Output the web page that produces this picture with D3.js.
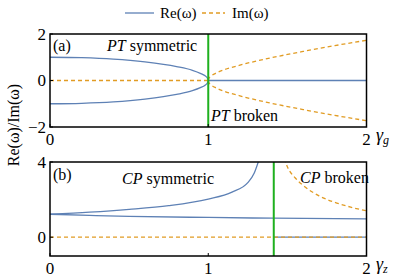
<!DOCTYPE html>
<html>
<head>
<meta charset="utf-8">
<script src="https://cdn.jsdelivr.net/npm/d3@7"></script>
<style>
  body { margin: 0; background: #fff; }
</style>
</head>
<body>
<div id="chart"></div>
<script>
// values
const xTicks = [0, 1, 2];
const yTicksA = [-2, 0, 2];
const yTicksB = [0, 4];

// panel (a): PT
const gammaA1 = [0, 0.2, 0.4, 0.6, 0.8, 0.9, 0.95, 0.98, 0.995, 1];
const reAUpper = [1, 0.98, 0.92, 0.8, 0.6, 0.44, 0.31, 0.2, 0.1, 0];
const reALower = [-1, -0.98, -0.92, -0.8, -0.6, -0.44, -0.31, -0.2, -0.1, 0];
const gammaA2 = [1, 1.005, 1.02, 1.05, 1.1, 1.2, 1.4, 1.6, 1.8, 2];
const imAUpper = [0, 0.1, 0.2, 0.32, 0.46, 0.66, 0.98, 1.25, 1.5, 1.73];
const imALower = [0, -0.1, -0.2, -0.32, -0.46, -0.66, -0.98, -1.25, -1.5, -1.73];
const criticalA = 1;

// panel (b): CP
const gammaB1 = [0, 0.25, 0.5, 0.75, 1.0, 1.15, 1.25, 1.29, 1.32];
const reBUpper = [1.22, 1.33, 1.48, 1.68, 2.03, 2.4, 2.9, 3.4, 4.1];
const gammaB2 = [0, 0.25, 0.5, 1.0, 1.41, 2];
const reBLower = [1.22, 1.16, 1.11, 1.05, 1.01, 0.97];
const gammaB3 = [1.48, 1.5, 1.55, 1.6, 1.7, 1.8, 1.9, 2];
const imBUpper = [4.2, 3.75, 3.15, 2.75, 2.2, 1.85, 1.6, 1.4];
const criticalB = 1.414;

const blue = "#5e81b5", orange = "#e19c24", green = "#1fb01f";
const serif = "Liberation Serif";

const svg = d3.select("#chart").append("svg")
    .attr("width", 399)
    .attr("height", 279);

const x = d3.scaleLinear().domain([0, 2]).range([50, 366.5]);

function panel(id, yDomain, yRange, yTicks) {
    const y = d3.scaleLinear().domain(yDomain).range(yRange);
    const g = svg.append("g");
    g.append("clipPath").attr("id", "clip-" + id)
        .append("rect")
        .attr("x", x.range()[0]).attr("y", yRange[1])
        .attr("width", x.range()[1] - x.range()[0])
        .attr("height", yRange[0] - yRange[1]);
    const plot = g.append("g").attr("clip-path", "url(#clip-" + id + ")");

    function curve(xs, ys, color, dashed) {
        const line = d3.line()
            .x(function(d, i) { return x(xs[i]); })
            .y(function(d) { return y(d); })
            .curve(d3.curveMonotoneX);
        plot.append("path")
            .attr("d", line(ys))
            .attr("fill", "none")
            .attr("stroke", color)
            .attr("stroke-width", 1.3)
            .attr("stroke-dasharray", dashed ? "4,3" : null);
    }

    function vline(v) {
        plot.append("line")
            .attr("x1", x(v)).attr("x2", x(v))
            .attr("y1", yRange[0]).attr("y2", yRange[1])
            .attr("stroke", green)
            .attr("stroke-width", 2);
    }

    // frame
    g.append("rect")
        .attr("x", x.range()[0]).attr("y", yRange[1])
        .attr("width", x.range()[1] - x.range()[0])
        .attr("height", yRange[0] - yRange[1])
        .attr("fill", "none")
        .attr("stroke", "#000")
        .attr("stroke-width", 1.5);

    // ticks and labels
    g.selectAll(".xt").data(xTicks).enter().append("line")
        .attr("x1", d => x(d)).attr("x2", d => x(d))
        .attr("y1", yRange[0]).attr("y2", yRange[0] - 3)
        .attr("stroke", "#000");
    g.selectAll(".xl").data(xTicks).enter().append("text")
        .attr("x", d => x(d))
        .attr("y", yRange[0] + 18)
        .attr("text-anchor", "middle")
        .style("font-family", serif)
        .attr("font-size", 17)
        .text(d => d);
    g.selectAll(".yl").data(yTicks).enter().append("text")
        .attr("x", x.range()[0] - 4)
        .attr("y", d => y(d) + 5.5)
        .attr("text-anchor", "end")
        .style("font-family", serif)
        .attr("font-size", 17)
        .text(d => d < 0 ? "\u2212" + (-d) : d);
    g.selectAll(".yt").data(yTicks).enter().append("line")
        .attr("x1", x.range()[0]).attr("x2", x.range()[0] + 3)
        .attr("y1", d => y(d)).attr("y2", d => y(d))
        .attr("stroke", "#000");

    return {y: y, curve: curve, vline: vline, g: g};
}

// panel (a)
const a = panel("a", [-2, 2], [127, 34], yTicksA);
a.curve(gammaA1, reAUpper, blue, false);
a.curve(gammaA1, reALower, blue, false);
a.curve([criticalA, 2], [0, 0], blue, false);
a.curve([0, criticalA], [0, 0], orange, true);
a.curve(gammaA2, imAUpper, orange, true);
a.curve(gammaA2, imALower, orange, true);
a.vline(criticalA);

// panel (b)
const b = panel("b", [-1, 4], [256, 162], yTicksB);
b.curve(gammaB1, reBUpper, blue, false);
b.curve(gammaB2, reBLower, blue, false);
b.curve([criticalB, 2], [0, 0], blue, false);
b.curve([0, 2], [0, 0], orange, true);
b.curve(gammaB3, imBUpper, orange, true);
b.vline(criticalB);

// annotations
function note(px, py, script, rest) {
    const t = svg.append("text").attr("x", px).attr("y", py)
        .style("font-family", serif).attr("font-size", 16);
    if (script) t.append("tspan").attr("font-style", "italic").text(script);
    t.append("tspan").text(rest);
}
note(53, 51, null, "(a)");
note(107, 51, "PT", " symmetric");
note(211, 121, "PT", " broken");
note(53, 180, null, "(b)");
note(122, 184, "CP", " symmetric");
note(300, 183, "CP", " broken");

// axis variable labels
function gammaLabel(px, py, sub) {
    const t = svg.append("text").attr("x", px).attr("y", py)
        .style("font-family", serif).attr("font-size", 18);
    t.append("tspan").attr("font-style", "italic").text("\u03b3");
    t.append("tspan").attr("font-style", "italic").attr("font-size", 12).attr("dy", 3).text(sub);
}
gammaLabel(376, 141, "g");
gammaLabel(376, 270, "z");

// y axis title
svg.append("text")
    .attr("transform", "translate(19,125) rotate(-90)")
    .attr("text-anchor", "middle")
    .style("font-family", serif)
    .attr("font-size", 16)
    .text("Re(\u03c9)/Im(\u03c9)");

// legend
const legend = svg.append("g");
legend.append("line").attr("x1", 125).attr("x2", 154).attr("y1", 13).attr("y2", 13)
    .attr("stroke", blue).attr("stroke-width", 1.3);
legend.append("text").attr("x", 160).attr("y", 18)
    .style("font-family", serif).attr("font-size", 15).text("Re(\u03c9)");
legend.append("line").attr("x1", 202).attr("x2", 225).attr("y1", 13).attr("y2", 13)
    .attr("stroke", orange).attr("stroke-width", 1.3).attr("stroke-dasharray", "4,3");
legend.append("text").attr("x", 232).attr("y", 18)
    .style("font-family", serif).attr("font-size", 15).text("Im(\u03c9)");
</script>
</body>
</html>
